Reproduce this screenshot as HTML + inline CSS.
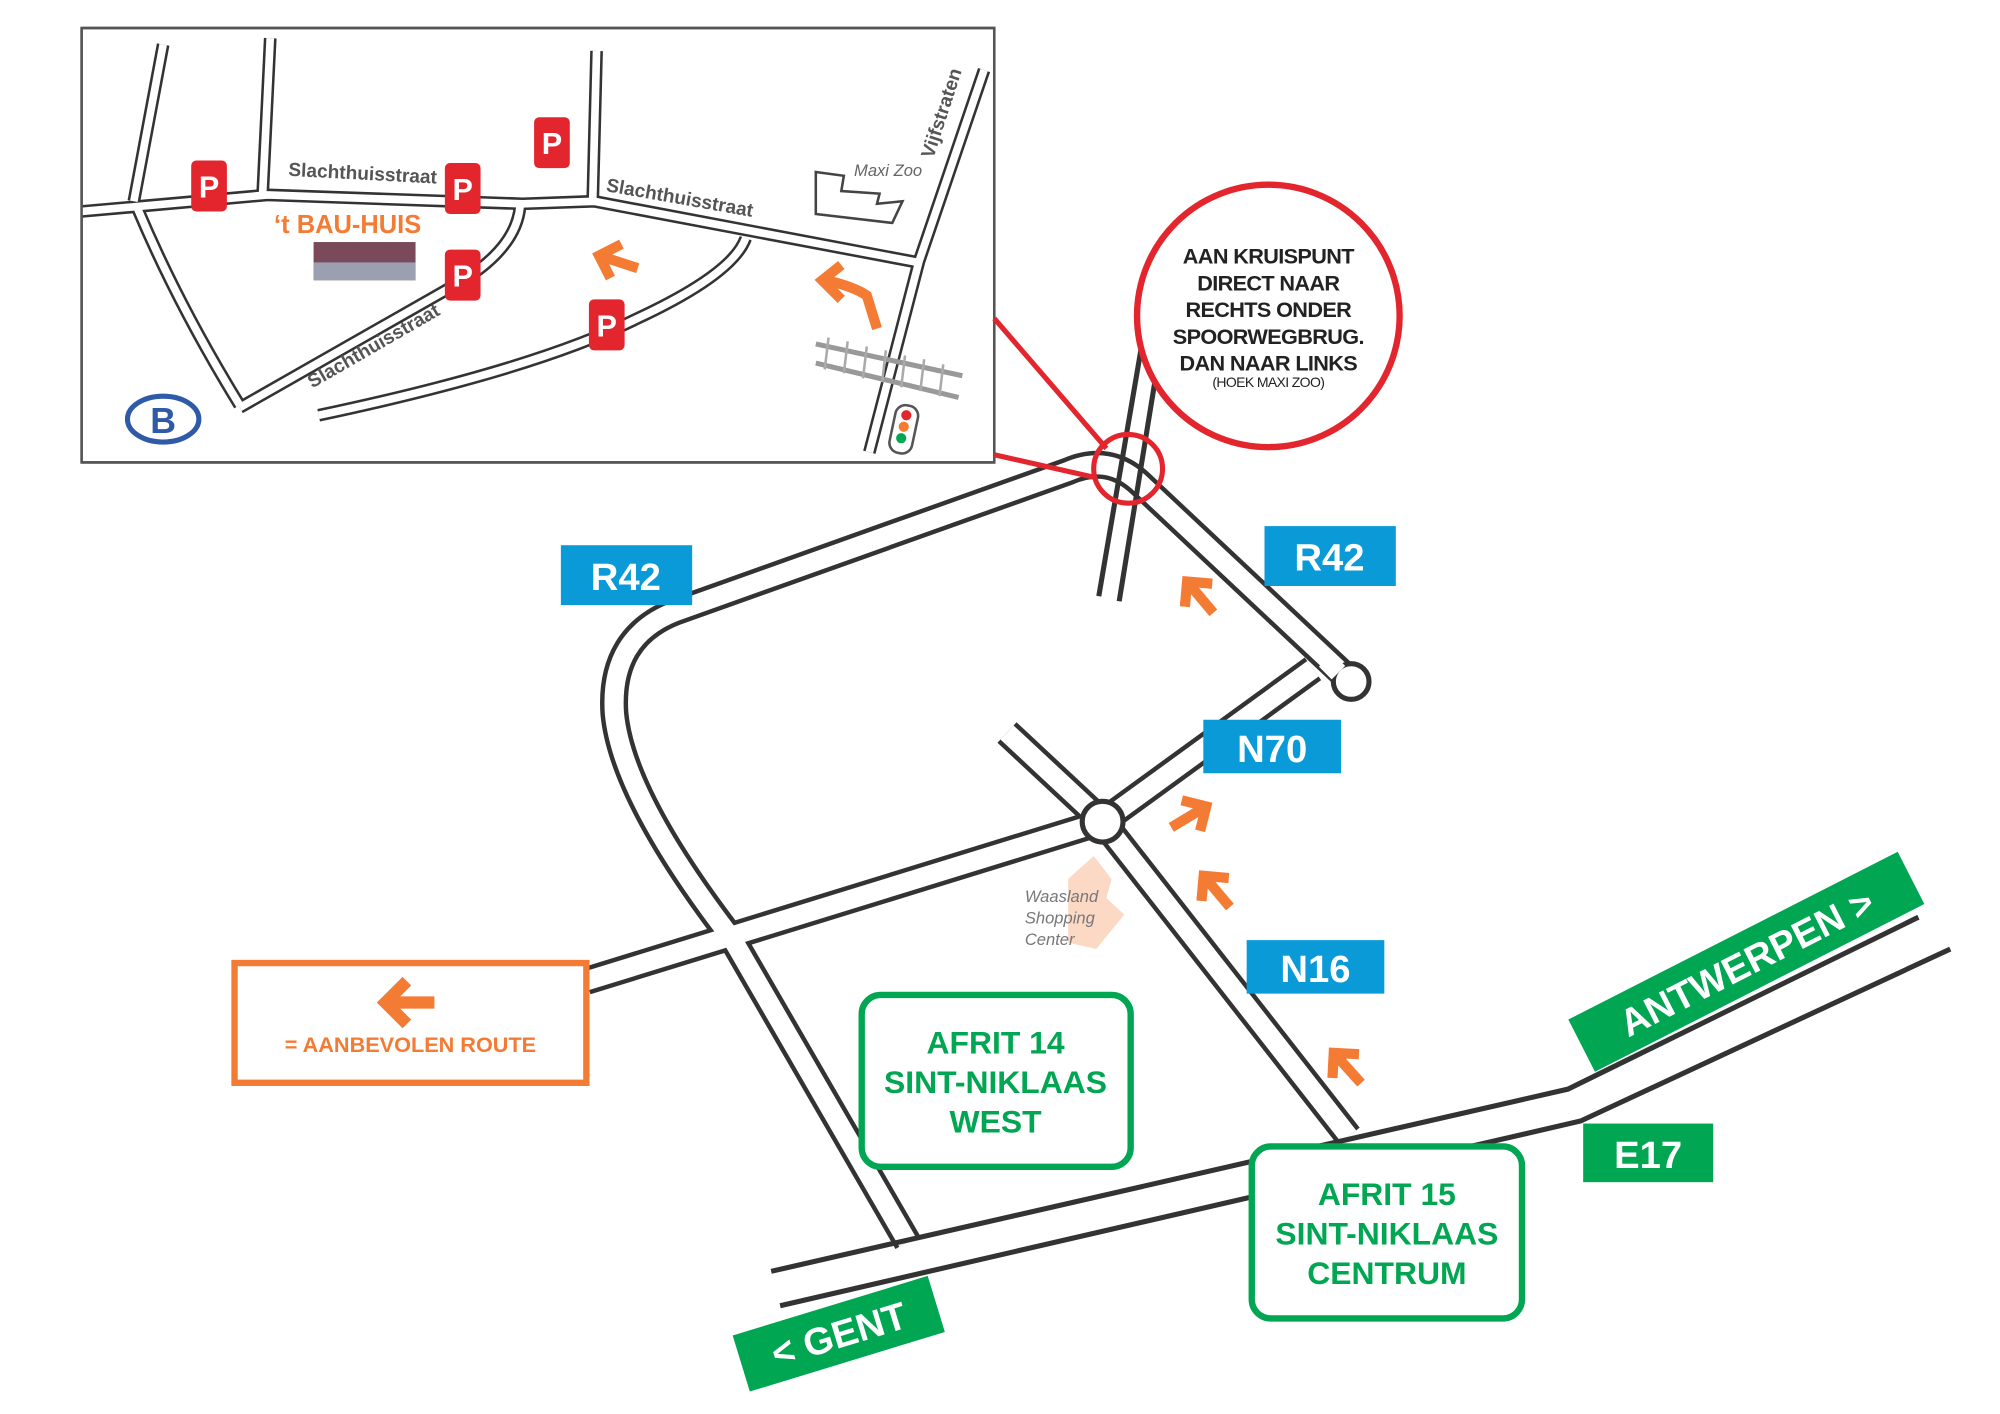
<!DOCTYPE html>
<html><head><meta charset="utf-8"><style>
html,body{margin:0;padding:0;background:#fff}
svg{display:block}
text{font-family:"Liberation Sans",sans-serif}
</style></head><body>
<svg width="2000" height="1414" viewBox="0 0 1569 1110" preserveAspectRatio="none" xmlns="http://www.w3.org/2000/svg">
<defs>
<g id="ar"><path d="M2 0 L34 0 M16 -14 L2 0 L16 14" fill="none" stroke="#f47b33" stroke-width="8" stroke-linecap="butt" stroke-linejoin="miter"/></g>
</defs>
<rect width="1569" height="1110" fill="#fff"/>

<!-- INSET -->
<rect x="64" y="22" width="716" height="341" fill="#fff" stroke="#555" stroke-width="2"/>
<g fill="none" stroke-linejoin="round" stroke-linecap="butt">
<g stroke="#333" stroke-width="10">
<path d="M128 35 L105 158"/><path d="M212 30 L206 153"/><path d="M468 40 L465 157"/>
<path d="M64 166 L210 153 L410 160 L466 158 L720 206"/>
<path d="M772 55 L721 205 L682 355"/>
<path d="M108 164 Q140 240 188 318"/>
<path d="M188 320 L360 222 Q405 195 408 162"/>
<path d="M250 326 Q420 290 500 250 Q575 215 585 187"/>
</g>
<g stroke="#fff" stroke-width="6">
<path d="M128 35 L105 158"/><path d="M212 30 L206 153"/><path d="M468 40 L465 157"/>
<path d="M64 166 L210 153 L410 160 L466 158 L720 206"/>
<path d="M772 55 L721 205 L682 355"/>
<path d="M108 164 Q140 240 188 318"/>
<path d="M188 320 L360 222 Q405 195 408 162"/>
<path d="M250 326 Q420 290 500 250 Q575 215 585 187"/>
</g>
</g>
<rect x="60" y="20" width="4" height="345" fill="#fff"/>
<rect x="64" y="22" width="716" height="341" fill="none" stroke="#555" stroke-width="2"/>
<!-- P signs -->
<g font-weight="bold" font-size="24" fill="#fff" text-anchor="middle">
<rect x="150" y="126" width="28" height="40" rx="4" fill="#e3262e"/><text x="164" y="155">P</text>
<rect x="349" y="128" width="28" height="40" rx="4" fill="#e3262e"/><text x="363" y="157">P</text>
<rect x="419" y="92" width="28" height="40" rx="4" fill="#e3262e"/><text x="433" y="121">P</text>
<rect x="349" y="196" width="28" height="40" rx="4" fill="#e3262e"/><text x="363" y="225">P</text>
<rect x="462" y="235" width="28" height="40" rx="4" fill="#e3262e"/><text x="476" y="264">P</text>
</g>
<g fill="#555" font-size="15" font-weight="bold">
<text x="226" y="138" transform="rotate(3 226 138)">Slachthuisstraat</text>
<text x="475" y="150" transform="rotate(10 475 150)">Slachthuisstraat</text>
<text x="245" y="305" transform="rotate(-30 245 305)">Slachthuisstraat</text>
<text x="732" y="125" transform="rotate(-72 732 125)">Vijfstraten</text>
</g>
<text x="215" y="183" font-size="20" font-weight="bold" fill="#f47b33">‘t BAU-HUIS</text>
<rect x="246" y="190" width="80" height="30" fill="#7a4a5a"/>
<rect x="246" y="206" width="80" height="14" fill="#9aa0b0"/>
<ellipse cx="128" cy="329" rx="28" ry="18" fill="#fff" stroke="#2e5aa8" stroke-width="4"/>
<text x="128" y="340" font-size="28" font-weight="bold" fill="#2e5aa8" text-anchor="middle" font-family="Liberation Serif">B</text>
<path d="M640 135 L662 138 L660 150 L690 152 L688 160 L708 158 L700 175 L640 168 Z" fill="none" stroke="#444" stroke-width="2"/>
<text x="670" y="138" font-size="13" font-style="italic" fill="#666">Maxi Zoo</text>
<g stroke="#999" stroke-width="4"><path d="M640 270 L755 295"/><path d="M640 285 L752 312"/></g>
<g stroke="#aaa" stroke-width="2"><path d="M650 265 L647 290 M665 268 L662 293 M680 272 L677 297 M695 275 L692 300 M710 279 L707 304 M725 282 L722 307 M740 286 L737 311"/></g>
<rect x="700" y="318" width="18" height="38" rx="8" fill="#fff" stroke="#555" stroke-width="2" transform="rotate(12 709 337)"/>
<circle cx="711" cy="326" r="4" fill="#e3262e"/><circle cx="709" cy="335" r="4" fill="#f47b33"/><circle cx="707" cy="344" r="4" fill="#00a651"/>
<use href="#ar" transform="translate(468 200) rotate(18)"/>
<path d="M688 258 L680 232 Q670 225 648 220" fill="none" stroke="#f47b33" stroke-width="8"/>
<path d="M660 208 L645 220 L660 235" fill="none" stroke="#f47b33" stroke-width="8"/>

<!-- MAIN ROADS -->
<g fill="none" stroke-linejoin="round">
<g stroke="#333" stroke-width="22">
<path d="M1060 535 L895 380 Q870 356 838 370 L530 480 Q478 500 482 560 Q488 625 575 738 L712 975"/>
<path d="M1030 525 L865 645 L460 770"/>
<path d="M790 575 L865 645 L1058 892"/>
</g>
<g stroke="#fff" stroke-width="15">
<path d="M1060 535 L895 380 Q870 356 838 370 L530 480 Q478 500 482 560 Q488 625 575 738 L712 975"/>
<path d="M1030 525 L865 645 L460 770"/>
<path d="M790 575 L865 645 L1058 892"/>
</g>
</g>
<circle cx="1060" cy="535" r="14" fill="#fff" stroke="#333" stroke-width="4"/>
<path d="M1040 518 L1050 528" stroke="#fff" stroke-width="15"/>
<circle cx="865" cy="645" r="16" fill="#fff" stroke="#333" stroke-width="4"/>
<!-- E17 -->
<path d="M605 998 L1230 855 L1505 720" fill="none" stroke="#333" stroke-width="4"/>
<path d="M612 1025 L1240 880 L1530 745" fill="none" stroke="#333" stroke-width="4"/>
<!-- railway -->
<path d="M862 468 L895 275" stroke="#333" stroke-width="4"/>
<path d="M878 472 L910 275" stroke="#333" stroke-width="4"/>
<!-- red -->
<path d="M780 250 L868 352 M780 357 L860 375" stroke="#e3262e" stroke-width="4"/>
<circle cx="885" cy="368" r="27" fill="none" stroke="#e3262e" stroke-width="4"/>
<circle cx="995" cy="248" r="103" fill="#fff" stroke="#e3262e" stroke-width="5"/>
<g font-size="17" font-weight="bold" fill="#222" text-anchor="middle" letter-spacing="-0.5">
<text x="995" y="207">AAN KRUISPUNT</text>
<text x="995" y="228">DIRECT NAAR</text>
<text x="995" y="249">RECHTS ONDER</text>
<text x="995" y="270">SPOORWEGBRUG.</text>
<text x="995" y="291">DAN NAAR LINKS</text>
<text x="995" y="304" font-size="11" font-weight="normal">(HOEK MAXI ZOO)</text>
</g>
<!-- shopping -->
<path d="M838 690 L858 672 L872 690 L868 705 L882 718 L860 745 L838 740 Z" fill="#fbd9c4"/>
<g font-size="13" font-style="italic" fill="#777"><text x="804" y="708">Waasland</text><text x="804" y="725">Shopping</text><text x="804" y="742">Center</text></g>
<!-- blue labels -->
<g font-size="30" font-weight="bold" fill="#fff" text-anchor="middle">
<rect x="440" y="428" width="103" height="47" fill="#0a9ad8"/><text x="491" y="463">R42</text>
<rect x="992" y="413" width="103" height="47" fill="#0a9ad8"/><text x="1043" y="448">R42</text>
<rect x="944" y="565" width="108" height="42" fill="#0a9ad8"/><text x="998" y="598">N70</text>
<rect x="978" y="738" width="108" height="42" fill="#0a9ad8"/><text x="1032" y="771">N16</text>
<rect x="1242" y="882" width="102" height="46" fill="#00a651"/><text x="1293" y="917">E17</text>
<g transform="rotate(-27 1370 755)"><rect x="1225" y="732" width="290" height="46" fill="#00a651"/><text x="1370" y="766">ANTWERPEN &gt;</text></g>
<g transform="rotate(-17 658 1047)"><rect x="578" y="1024" width="160" height="46" fill="#00a651"/><text x="658" y="1058">&lt; GENT</text></g>
</g>
<!-- green boxes -->
<rect x="676" y="781" width="211" height="135" rx="15" fill="#fff" stroke="#00a651" stroke-width="5"/>
<rect x="982" y="900" width="212" height="135" rx="15" fill="#fff" stroke="#00a651" stroke-width="5"/>
<g font-size="25" font-weight="bold" fill="#00a651" text-anchor="middle">
<text x="781" y="827">AFRIT 14</text><text x="781" y="858">SINT-NIKLAAS</text><text x="781" y="889">WEST</text>
<text x="1088" y="946">AFRIT 15</text><text x="1088" y="977">SINT-NIKLAAS</text><text x="1088" y="1008">CENTRUM</text>
</g>
<!-- legend -->
<rect x="184" y="756" width="276" height="94" fill="#fff" stroke="#f47b33" stroke-width="5"/>
<use href="#ar" transform="translate(300 787) scale(1.2)"/>
<text x="322" y="826" font-size="17" font-weight="bold" fill="#f47b33" text-anchor="middle">= AANBEVOLEN ROUTE</text>
<!-- arrows -->
<use href="#ar" transform="translate(930 455) rotate(50)"/>
<use href="#ar" transform="translate(948 632) rotate(149)"/>
<use href="#ar" transform="translate(943 686) rotate(50)"/>
<use href="#ar" transform="translate(1045 825) rotate(48)"/>
</svg>
</body></html>
